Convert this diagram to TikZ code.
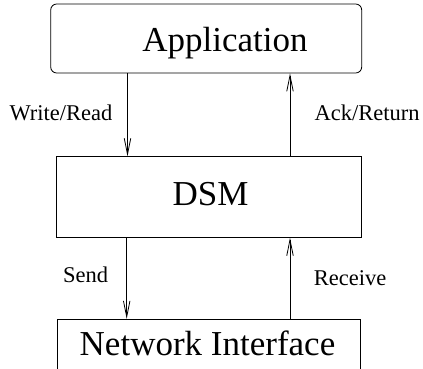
\documentclass[tikz,border=0pt]{standalone}
\usepackage{fontspec}
\setmainfont{Liberation Serif}
\usetikzlibrary{arrows.meta}
\begin{document}
\begin{tikzpicture}[x=1pt,y=-1pt,
  box/.style={draw,line width=0.8pt,inner sep=0pt},
  big/.style={font=\fontsize{35}{40}\selectfont,anchor=base,inner sep=0pt},
  lbl/.style={font=\fontsize{22.5}{26}\selectfont,anchor=base,inner sep=0pt},
  arr/.style={line width=0.8pt,-{Straight Barb[length=16pt,width=6.5pt,line width=0.8pt]}}]
\useasboundingbox (0,0) rectangle (423,369);
\node[box,rounded corners=6pt,minimum width=311pt,minimum height=69pt] (app) at (206.2,38.5) {};
\node[box,minimum width=305pt,minimum height=80.6pt] (dsm) at (209.2,197) {};
\node[box,minimum width=302.6pt,minimum height=120pt] (ni) at (209,379.3) {};
\node[big] (tapp) at (225,51.7) {Application};
\node[big] (tdsm) at (210.5,205) {DSM};
\node[big] (tni) at (207.5,355) {Network Interface};
\coordinate (cl) at (127.5,0);
\coordinate (cr) at (290,0);
\coordinate (cl2) at (126.7,0);
\draw[arr] (app.south -| cl) -- (dsm.north -| cl);
\draw[arr] (dsm.north -| cr) -- (app.south -| cr);
\draw[arr] (dsm.south -| cl2) -- (ni.north -| cl2);
\draw[arr] (ni.north -| cr) -- (dsm.south -| cr);
\node[lbl] (l1) at (61,120) {Write/Read};
\node[lbl] (l2) at (367,120) {Ack/Return};
\node[lbl] (l3) at (85.5,282.7) {Send};
\node[lbl] (l4) at (350,285) {Receive};
\end{tikzpicture}
\end{document}
